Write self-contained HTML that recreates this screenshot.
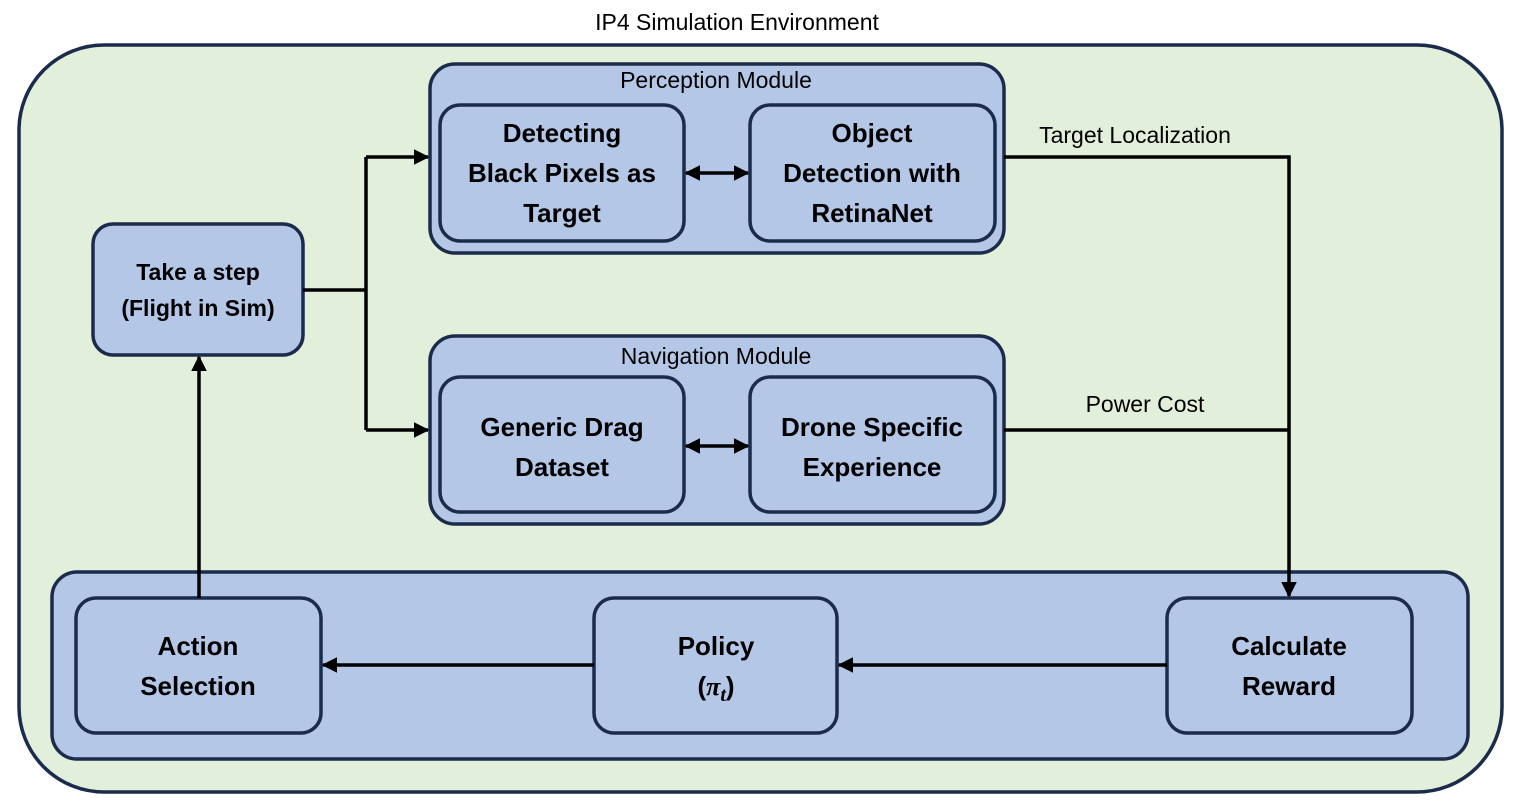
<!DOCTYPE html>
<html><head><style>body{margin:0;background:#fff}svg{display:block}</style></head><body>
<svg width="1515" height="810" viewBox="0 0 1515 810" xmlns="http://www.w3.org/2000/svg" font-family="'Liberation Sans', sans-serif">
<defs>
<marker id="a" viewBox="0 0 10 10" refX="9" refY="5" markerWidth="4.5" markerHeight="4.5" orient="auto-start-reverse"><path d="M0,0L10,5L0,10z" fill="#000"/></marker>
</defs>
<text x="737" y="30" font-size="23" text-anchor="middle">IP4 Simulation Environment</text>
<rect x="19" y="45" width="1483" height="747" rx="85" fill="#e2efda" stroke="#1b2b4b" stroke-width="3.5"/>
<g fill="#b4c7e7" stroke="#1b2b4b" stroke-width="3.5">
<rect x="430" y="64" width="574" height="189" rx="25"/>
<rect x="440" y="105" width="244" height="136" rx="20"/>
<rect x="750" y="105" width="245" height="136" rx="20"/>
<rect x="430" y="336" width="574" height="188" rx="25"/>
<rect x="440" y="377" width="244" height="135" rx="20"/>
<rect x="750" y="377" width="245" height="135" rx="20"/>
<rect x="93" y="224" width="210" height="131" rx="20"/>
<rect x="52" y="572" width="1416" height="187" rx="25"/>
<rect x="76" y="598" width="245" height="135" rx="20"/>
<rect x="594" y="598" width="243" height="135" rx="20"/>
<rect x="1167" y="598" width="245" height="135" rx="20"/>
</g>
<g font-size="23" text-anchor="middle">
<text x="716" y="88">Perception Module</text>
<text x="716" y="364">Navigation Module</text>
<text x="1135" y="143">Target Localization</text>
<text x="1145" y="412">Power Cost</text>
</g>
<g font-size="26" font-weight="bold" text-anchor="middle">
<text x="562" y="142">Detecting</text><text x="562" y="182">Black Pixels as</text><text x="562" y="222">Target</text>
<text x="872" y="142">Object</text><text x="872" y="182">Detection with</text><text x="872" y="222">RetinaNet</text>
<text x="562" y="436">Generic Drag</text><text x="562" y="476">Dataset</text>
<text x="872" y="436">Drone Specific</text><text x="872" y="476">Experience</text>
<text x="198" y="280" font-size="23">Take a step</text><text x="198" y="316" font-size="23">(Flight in Sim)</text>
<text x="198" y="655">Action</text><text x="198" y="695">Selection</text>
<text x="716" y="655">Policy</text><text x="716" y="695">(<tspan font-family="'Liberation Serif', serif" font-style="italic">π</tspan><tspan font-family="'Liberation Serif', serif" font-style="italic" font-size="20" dy="6">t</tspan><tspan dy="-6">)</tspan></text>
<text x="1289" y="655">Calculate</text><text x="1289" y="695">Reward</text>
</g>
<g stroke="#000" stroke-width="3.5" fill="none">
<path d="M303,290H366"/>
<path d="M366,157V430"/>
<path d="M366,157H428" marker-end="url(#a)"/>
<path d="M366,430H428" marker-end="url(#a)"/>
<path d="M686,173H748" marker-start="url(#a)" marker-end="url(#a)"/>
<path d="M686,446H748" marker-start="url(#a)" marker-end="url(#a)"/>
<path d="M1004,157H1289V596" marker-end="url(#a)"/>
<path d="M1004,430H1289"/>
<path d="M1167,665H839" marker-end="url(#a)"/>
<path d="M594,665H323" marker-end="url(#a)"/>
<path d="M199,598V357" marker-end="url(#a)"/>
</g>
</svg>
</body></html>
